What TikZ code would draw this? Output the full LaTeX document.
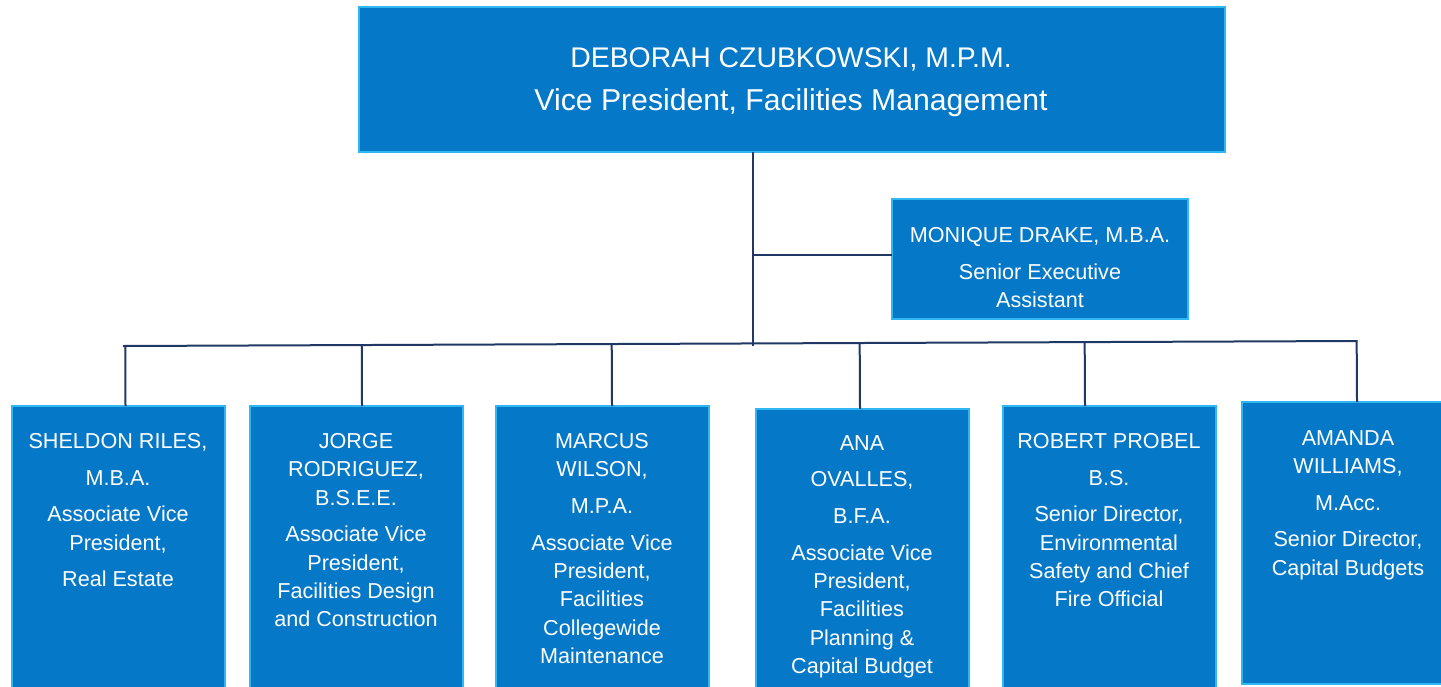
\documentclass[tikz,border=0pt]{standalone}
\usepackage{fontspec}
\setmainfont{Liberation Sans}
\usetikzlibrary{calc}
\definecolor{boxblue}{RGB}{6,120,200}
\definecolor{boxedge}{RGB}{48,182,242}
\definecolor{linkc}{RGB}{31,56,100}
\begin{document}
\begin{tikzpicture}[x=0.5pt,y=-0.5pt,
  box/.style={rectangle,fill=boxblue,draw=boxedge,line width=1pt,inner sep=0pt,anchor=north west,minimum width=106.5pt,minimum height=150pt},
  txt/.style={anchor=north,inner sep=0pt,align=center,text=white,font=\fontsize{10.8pt}{14.15pt}\selectfont},
  conn/.style={draw=linkc,line width=1pt,line cap=rect}]
\useasboundingbox (0,0) rectangle (1441,686);
\clip (0,0) rectangle (1441,686);
% boxes
\node[box,minimum width=433pt,minimum height=72.5pt] (top) at (358,6) {};
\node[box,minimum width=148pt,minimum height=60pt] (monique) at (891,198) {};
\node[box] (sheldon) at (11,405) {};
\node[box] (jorge) at (249,405) {};
\node[box] (marcus) at (495,405) {};
\node[box] (ana) at (755,408) {};
\node[box] (robert) at (1002,405) {};
\node[box,minimum height=141pt] (amanda) at (1241,401) {};
% texts
\node[txt,font=\fontsize{14.2pt}{21.5pt}\selectfont] (toptxt) at (791,47) {DEBORAH CZUBKOWSKI, M.P.M.\\{\fontsize{15.1pt}{21.5pt}\selectfont Vice President, Facilities Management}};
\node[txt] (moniquetxt) at (1040,227) {MONIQUE DRAKE, M.B.A.\\[4.2pt]Senior Executive\\Assistant};
\node[txt] (sheldontxt) at (118,433) {SHELDON RILES,\\[4.2pt]M.B.A.\\[4.2pt]Associate Vice\\President,\\[4.2pt]Real Estate};
\node[txt] (jorgetxt) at (356,433) {JORGE\\RODRIGUEZ,\\B.S.E.E.\\[4.2pt]Associate Vice\\President,\\Facilities Design\\and Construction};
\node[txt] (marcustxt) at (602,433) {MARCUS\\WILSON,\\[4.2pt]M.P.A.\\[4.2pt]Associate Vice\\President,\\Facilities\\Collegewide\\Maintenance};
\node[txt] (anatxt) at (862,435) {ANA\\[4.2pt]OVALLES,\\[4.2pt]B.F.A.\\[4.2pt]Associate Vice\\President,\\Facilities\\Planning \&\\Capital Budget};
\node[txt] (roberttxt) at (1109,433) {ROBERT PROBEL\\[4.2pt]B.S.\\[4.2pt]Senior Director,\\Environmental\\Safety and Chief\\Fire Official};
\node[txt] (amandatxt) at (1348,430) {AMANDA\\WILLIAMS,\\[4.2pt]M.Acc.\\[4.2pt]Senior Director,\\Capital Budgets};
% connectors
\coordinate (j) at (753,345);
\coordinate (m) at (753,255);
\coordinate (busL) at (124,346);
\coordinate (busR) at (1356,341);
\draw[conn] (top.south -| j) -- (j);
\draw[conn] (m) -- (m -| monique.west);
\draw[conn] (busL) -- (busR);
\draw[conn] ([xshift=3.5pt]sheldon.north) -- ($(busL)!([xshift=3.5pt]sheldon.north)!(busR)$);
\draw[conn] ([xshift=2.75pt]jorge.north) -- ($(busL)!([xshift=2.75pt]jorge.north)!(busR)$);
\draw[conn] ([xshift=4.75pt]marcus.north) -- ($(busL)!([xshift=4.75pt]marcus.north)!(busR)$);
\draw[conn] ([xshift=-1.25pt]ana.north) -- ($(busL)!([xshift=-1.25pt]ana.north)!(busR)$);
\draw[conn] ([xshift=-12.25pt]robert.north) -- ($(busL)!([xshift=-12.25pt]robert.north)!(busR)$);
\draw[conn] ([xshift=4.25pt]amanda.north) -- ($(busL)!([xshift=4.25pt]amanda.north)!(busR)$);
\end{tikzpicture}
\end{document}
